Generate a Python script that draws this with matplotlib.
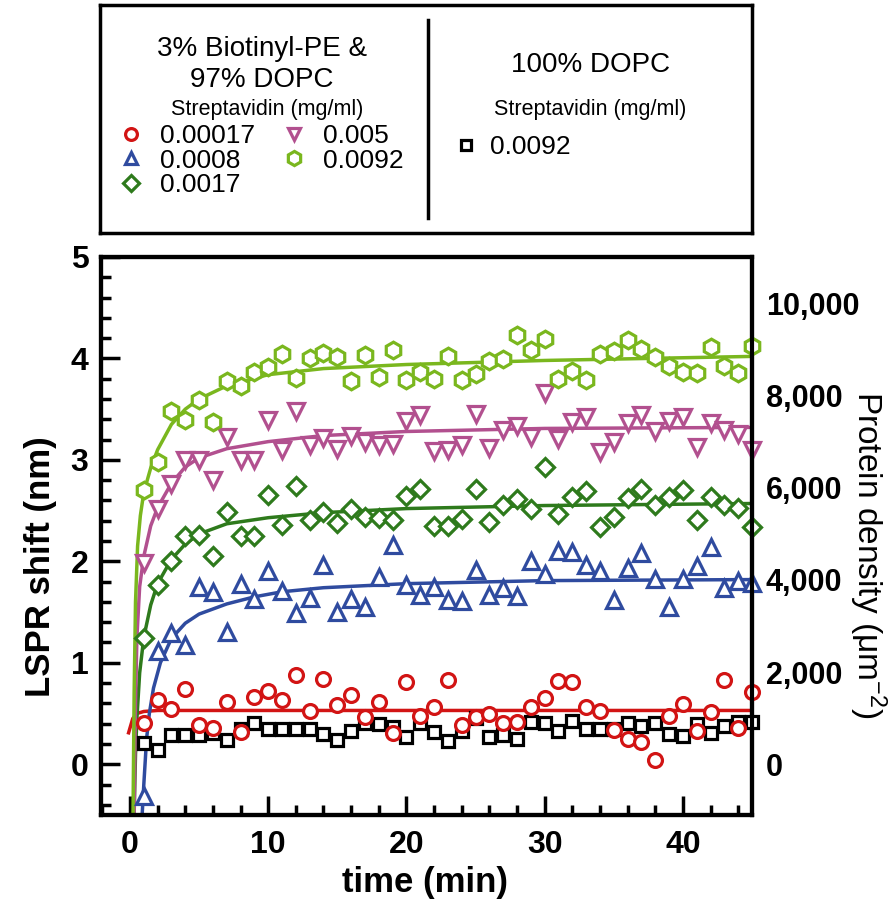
import numpy as np
import matplotlib
matplotlib.use("Agg")
import matplotlib.pyplot as plt
from matplotlib.ticker import MultipleLocator, FuncFormatter

plt.rcParams['font.family'] = ['Liberation Sans', 'DejaVu Sans']

# ---------------------------------------------------------------
# data
# ---------------------------------------------------------------
time_min = np.arange(1, 46)  # one reading per minute

# 3% Biotinyl-PE & 97% DOPC, streptavidin conc. (mg/ml) -> LSPR shift (nm)
shift_000017 = [0.41, 0.63, 0.54, 0.74, 0.39, 0.36, 0.61, 0.32, 0.66, 0.72,
                0.63, 0.88, 0.52, 0.84, 0.58, 0.68, 0.47, 0.61, 0.31, 0.81,
                0.48, 0.56, 0.83, 0.39, 0.47, 0.50, 0.41, 0.42, 0.56, 0.65,
                0.82, 0.81, 0.56, 0.52, 0.34, 0.25, 0.22, 0.04, 0.48, 0.59,
                0.33, 0.51, 0.83, 0.36, 0.71]
shift_00008 = [-0.31, 1.12, 1.29, 1.18, 1.75, 1.70, 1.30, 1.78, 1.63, 1.90,
               1.71, 1.49, 1.64, 1.96, 1.50, 1.63, 1.55, 1.85, 2.16, 1.77,
               1.67, 1.75, 1.62, 1.61, 1.91, 1.67, 1.74, 1.66, 2.00, 1.88,
               2.10, 2.09, 1.96, 1.90, 1.62, 1.93, 2.08, 1.83, 1.55, 1.83,
               1.95, 2.14, 1.74, 1.81, 1.79]
shift_00017 = [1.24, 1.77, 2.00, 2.25, 2.26, 2.05, 2.49, 2.25, 2.25, 2.65,
               2.36, 2.74, 2.41, 2.49, 2.38, 2.52, 2.44, 2.43, 2.41, 2.64,
               2.71, 2.35, 2.35, 2.42, 2.71, 2.39, 2.56, 2.61, 2.52, 2.93,
               2.47, 2.63, 2.69, 2.34, 2.44, 2.62, 2.71, 2.56, 2.63, 2.70,
               2.41, 2.63, 2.56, 2.53, 2.34]
shift_0005 = [1.98, 2.52, 2.76, 3.00, 3.00, 2.80, 3.23, 3.00, 3.00, 3.39,
              3.10, 3.48, 3.15, 3.22, 3.11, 3.24, 3.18, 3.15, 3.16, 3.38,
              3.44, 3.09, 3.10, 3.15, 3.45, 3.12, 3.29, 3.33, 3.23, 3.66,
              3.21, 3.37, 3.42, 3.08, 3.18, 3.36, 3.44, 3.28, 3.38, 3.42,
              3.13, 3.36, 3.29, 3.26, 3.10]
shift_00092 = [2.70, 2.98, 3.48, 3.39, 3.59, 3.37, 3.78, 3.73, 3.87, 3.92,
               4.04, 3.81, 4.00, 4.05, 4.01, 3.78, 4.03, 3.82, 4.08, 3.79,
               3.87, 3.80, 4.02, 3.79, 3.85, 3.97, 3.99, 4.23, 4.08, 4.19,
               3.80, 3.88, 3.79, 4.04, 4.07, 4.18, 4.09, 4.01, 3.93, 3.87,
               3.86, 4.11, 3.93, 3.86, 4.12]
# 100% DOPC, 0.0092 mg/ml streptavidin
shift_dopc = [0.21, 0.14, 0.29, 0.29, 0.29, 0.31, 0.24, 0.35, 0.41, 0.35,
              0.35, 0.35, 0.35, 0.30, 0.24, 0.33, 0.41, 0.40, 0.37, 0.27,
              0.41, 0.32, 0.23, 0.33, 0.46, 0.27, 0.29, 0.25, 0.42, 0.41,
              0.33, 0.43, 0.35, 0.35, 0.35, 0.41, 0.38, 0.41, 0.30, 0.28,
              0.40, 0.31, 0.38, 0.42, 0.42]

# fitted curves at a few times
fit_t_000017 = [-0.1, 0.2, 0.5, 1, 2, 45]
fit_y_000017 = [0.31, 0.45, 0.50, 0.52, 0.53, 0.53]
fit_t_00008 = [0.88, 1.0, 1.2, 1.4, 1.7, 2.2, 3, 4, 5, 7, 9, 11, 14, 20, 30, 45]
fit_y_00008 = [-0.5, -0.2, 0.25, 0.5, 0.75, 1.0, 1.24, 1.39, 1.48, 1.58, 1.65,
               1.70, 1.74, 1.78, 1.81, 1.82]
fit_t_00017 = [0.3, 0.4, 0.5, 0.7, 1, 1.5, 2, 3, 4, 5, 7, 10, 14, 20, 30, 45]
fit_y_00017 = [-0.5, 0.1, 0.45, 0.9, 1.25, 1.57, 1.78, 2.02, 2.17, 2.27, 2.37,
               2.43, 2.48, 2.52, 2.55, 2.57]
fit_t_0005 = [0.3, 0.4, 0.5, 0.7, 1, 1.5, 2, 3, 4, 5, 7, 10, 14, 20, 30, 45]
fit_y_0005 = [-0.5, 0.6, 1.25, 1.75, 2.05, 2.35, 2.53, 2.77, 2.93, 3.02, 3.11,
              3.18, 3.24, 3.28, 3.31, 3.32]
fit_t_00092 = [0.22, 0.3, 0.4, 0.55, 0.75, 1, 1.5, 2, 3, 4, 5, 7, 10, 14, 20, 30, 45]
fit_y_00092 = [-0.5, 0.7, 1.6, 2.15, 2.45, 2.68, 2.92, 3.10, 3.35, 3.50, 3.60,
               3.73, 3.84, 3.90, 3.94, 3.98, 4.02]

conc_labels = ["0.00017", "0.0008", "0.0017", "0.005", "0.0092"]
density_ticks = [0, 2000, 4000, 6000, 8000, 10000]
density_per_nm = 2200  # protein density (um^-2) per nm of LSPR shift

red = '#d21414'
blue = '#2f4b9f'
dkgreen = '#2e7a1c'
magenta = '#b2508f'
ltgreen = '#7ab71e'

# ---------------------------------------------------------------
fig = plt.figure(figsize=(8.95, 9.02), dpi=100)
ax = fig.add_axes([0.1128, 0.0965, 0.7274, 0.6186])

# fit lines
ax.plot(fit_t_000017, fit_y_000017, color=red, lw=2.5, zorder=2)
ax.plot(fit_t_00008, fit_y_00008, color=blue, lw=2.5, zorder=2)
ax.plot(fit_t_00017, fit_y_00017, color=dkgreen, lw=2.5, zorder=2)
ax.plot(fit_t_0005, fit_y_0005, color=magenta, lw=2.5, zorder=2)
ax.plot(fit_t_00092, fit_y_00092, color=ltgreen, lw=2.5, zorder=2)

mk = dict(ls='none', mfc='white', mew=2.3, zorder=3, clip_on=False)
p_sq, = ax.plot(time_min, shift_dopc, marker='s', ms=9, mec='black', **mk)
p_o, = ax.plot(time_min, shift_000017, marker='o', ms=10, mec=red, **mk)
p_up, = ax.plot(time_min, shift_00008, marker='^', ms=11, mec=blue, **mk)
p_d, = ax.plot(time_min, shift_00017, marker='D', ms=9, mec=dkgreen, **mk)
p_dn, = ax.plot(time_min, shift_0005, marker='v', ms=11, mec=magenta, **mk)
p_h, = ax.plot(time_min, shift_00092, marker='h', ms=12, mec=ltgreen, **mk)

ax.set_xlim(-2.1, 45)
ax.set_ylim(-0.5, 5)
ax.xaxis.set_major_locator(MultipleLocator(10))
ax.xaxis.set_minor_locator(MultipleLocator(2))
ax.yaxis.set_major_locator(MultipleLocator(1))
ax.yaxis.set_minor_locator(MultipleLocator(0.2))
ax.tick_params(which='both', direction='in', width=2.5, top=False, right=False)
ax.tick_params(which='major', length=14, labelsize=23)
ax.tick_params(axis='x', which='major', pad=11)
ax.tick_params(axis='y', which='major', pad=9)
ax.tick_params(which='minor', length=7)
for lab in ax.get_xticklabels() + ax.get_yticklabels():
    lab.set_fontweight('bold')
for s in ax.spines.values():
    s.set_linewidth(3)

# right axis: protein density
ax2 = ax.twinx()
ax2.set_ylim(-0.5 * density_per_nm, 5 * density_per_nm)
ax2.set_yticks(density_ticks)
ax2.yaxis.set_major_formatter(FuncFormatter(lambda v, p: f"{int(v):,}"))
ax2.tick_params(length=0, labelsize=22, pad=10)
for lab in ax2.get_yticklabels():
    lab.set_fontweight('bold')
for s in ax2.spines.values():
    s.set_linewidth(3)

fig.text(0.045, 0.372, 'LSPR shift (nm)', rotation=90, ha='center', va='center',
         fontsize=25, fontweight='bold')
fig.text(0.475, 0.022, 'time (min)', ha='center', va='center',
         fontsize=25, fontweight='bold')
fig.text(0.969, 0.385, r'Protein density ($\mathregular{\mu m^{-2}}$)', rotation=270,
         ha='center', va='center', fontsize=24)

# ---------------------------------------------------------------
# legend panel
lax = fig.add_axes([0.1117, 0.7417, 0.7285, 0.2528])
lax.set_xticks([])
lax.set_yticks([])
lax.set_xlim(0, 1)
lax.set_ylim(0, 1)
for s in lax.spines.values():
    s.set_linewidth(2.5)
lax.axvline(0.503, 0.066, 0.934, color='black', lw=2.5)

lax.text(0.248, 0.805, '3% Biotinyl-PE &', ha='center', va='center', fontsize=20)
lax.text(0.248, 0.672, '97% DOPC', ha='center', va='center', fontsize=20)
lax.text(0.256, 0.540, 'Streptavidin (mg/ml)', ha='center', va='center', fontsize=15.5)
lax.text(0.752, 0.735, '100% DOPC', ha='center', va='center', fontsize=20)
lax.text(0.752, 0.540, 'Streptavidin (mg/ml)', ha='center', va='center', fontsize=15.5)

leg1 = lax.legend(handles=[p_o, p_up, p_d, p_dn, p_h], labels=conc_labels,
                  ncol=2, loc='upper left', bbox_to_anchor=(0.028, 0.478),
                  frameon=False, fontsize=19, handlelength=1.0, handletextpad=0.6,
                  columnspacing=0.95, labelspacing=0.02, borderaxespad=0,
                  borderpad=0, markerscale=0.85)
lax.add_artist(leg1)
lax.legend(handles=[p_sq], labels=["0.0092"], loc='upper left',
           bbox_to_anchor=(0.541, 0.43), frameon=False, fontsize=19,
           handlelength=1.0, handletextpad=0.4, borderaxespad=0, borderpad=0,
           markerscale=0.85)

fig.savefig('out.png', dpi=100)
